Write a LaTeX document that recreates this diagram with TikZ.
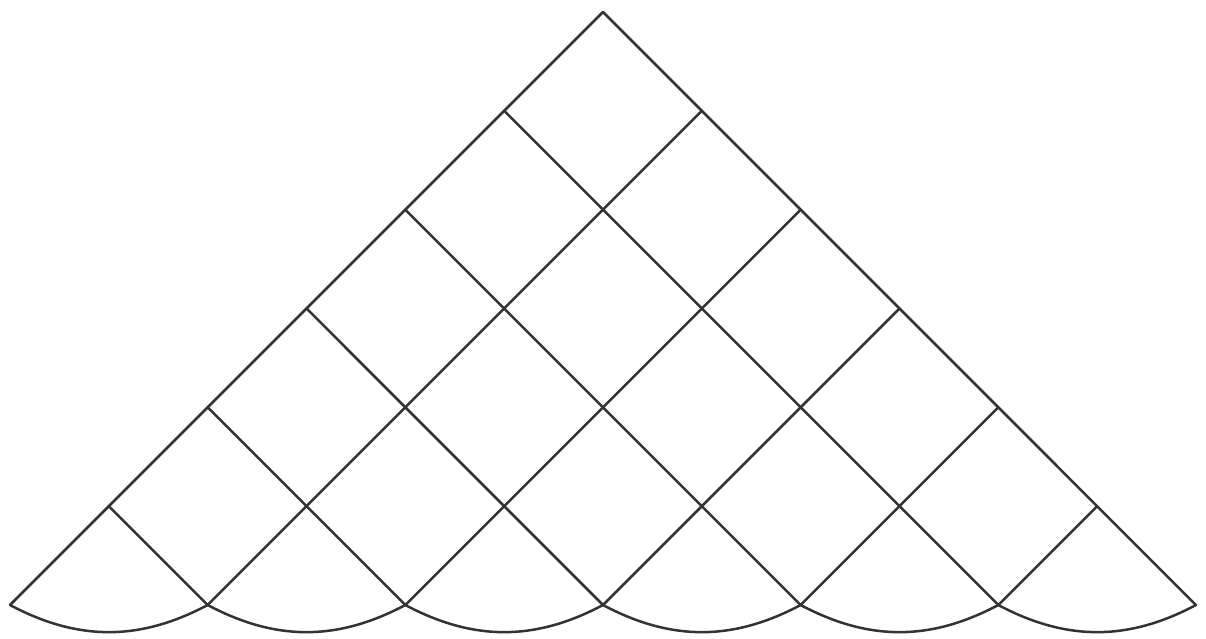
\documentclass[tikz,border=0pt]{standalone}
\begin{document}
\begin{tikzpicture}[x=1pt,y=-1pt,
  gridline/.style={draw=black!80,line width=2.5pt,line cap=round,line join=round}]
\useasboundingbox[fill=white] (0,0) rectangle (1206,639);
\def\d{98.83}
\foreach \k in {0,...,6}{
  \coordinate (L\k) at ({603-\k*\d},{12+\k*\d});
  \coordinate (R\k) at ({603+\k*\d},{12+\k*\d});
  \coordinate (B\k) at ({10+2*\k*\d},605);
}
% outer edges
\draw[gridline] (B0) -- (L0) -- (B6);
% grid lines
\foreach \k [evaluate=\k as \j using int(6-\k)] in {1,...,5}{
  \draw[gridline] (L\k) -- (B\j);
  \draw[gridline] (R\k) -- (B\k);
}
% scalloped base
\foreach \k [evaluate=\k as \n using int(\k+1)] in {0,...,5}{
  \draw[gridline] (B\k) to[bend right=28] (B\n);
}
\end{tikzpicture}
\end{document}
